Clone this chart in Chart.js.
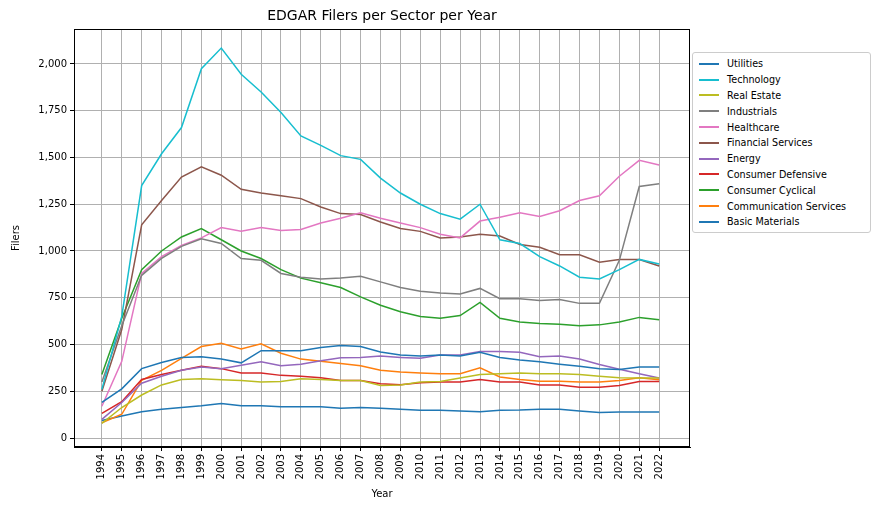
<!DOCTYPE html>
<html><head><meta charset="utf-8">
<script src="https://cdn.jsdelivr.net/npm/chart.js@4"></script>
<style>
body{margin:0;background:#fff;font-family:"DejaVu Sans",sans-serif;}
#wrap{position:relative;width:881px;height:511px;}
#title{position:absolute;left:74px;width:616px;top:7px;text-align:center;font-size:14px;color:#000;}
#legend{position:absolute;left:692px;top:52px;width:177px;border:1px solid #ccc;border-radius:3px;padding:3px 0 2px 0;font-size:9.6px;background:#fff;}
.li{display:flex;align-items:center;height:15.8px;padding-left:6px;}
.li span.l{display:inline-block;width:20px;height:2px;margin-right:8px;}
</style></head><body>
<div id="wrap"><canvas id="c" width="881" height="511"></canvas><div id="title">EDGAR Filers per Sector per Year</div><div id="legend"></div></div>
<script>
const years=[1994,1995,1996,1997,1998,1999,2000,2001,2002,2003,2004,2005,2006,2007,2008,2009,2010,2011,2012,2013,2014,2015,2016,2017,2018,2019,2020,2021,2022];
const utilities=[190,263,371,404,431,435,422,402,467,467,467,484,495,489,460,444,438,444,438,458,431,417,408,395,384,371,366,380,380];
const technology=[260,650,1350,1520,1660,1975,2085,1945,1850,1740,1615,1565,1510,1490,1390,1310,1250,1200,1170,1250,1060,1040,970,920,860,850,900,955,930];
const realEstate=[78,163,230,284,313,317,312,308,299,302,317,313,308,308,281,284,299,302,321,340,344,348,344,344,339,330,322,321,321];
const industrials=[300,600,870,960,1025,1065,1040,960,950,880,860,850,855,865,835,805,785,775,770,800,745,745,735,740,720,720,950,1345,1360];
const healthcare=[170,410,880,970,1030,1070,1125,1105,1125,1110,1115,1150,1175,1205,1175,1150,1125,1090,1070,1160,1180,1205,1185,1215,1270,1295,1400,1485,1460];
const financial=[250,580,1140,1270,1395,1450,1405,1330,1310,1295,1280,1235,1200,1195,1155,1120,1105,1070,1075,1090,1080,1035,1020,980,980,940,955,955,920];
const energy=[100,190,293,330,362,380,371,389,408,386,395,413,429,431,438,431,426,444,444,462,462,458,435,438,422,393,368,344,321];
const consDefensive=[132,194,313,340,362,384,371,348,348,335,330,322,308,308,290,285,295,299,299,313,299,299,284,284,272,272,281,302,302];
const consCyclical=[340,640,900,1000,1075,1120,1060,1000,960,900,855,830,805,755,710,675,650,640,655,725,640,620,612,608,600,605,620,645,632];
const communication=[82,127,308,362,426,489,507,476,504,453,422,411,399,386,362,353,348,344,344,375,326,313,304,304,299,299,308,322,312];
const basicMaterials=[94,118,141,154,163,172,185,172,172,167,167,167,159,163,159,154,149,149,145,141,149,150,154,154,145,136,139,139,139];
const yTicks=[0,250,500,750,1000,1250,1500,1750,2000];

const series=[
 ["Utilities",utilities,"#1f77b4"],["Technology",technology,"#17becf"],["Real Estate",realEstate,"#bcbd22"],
 ["Industrials",industrials,"#7f7f7f"],["Healthcare",healthcare,"#e377c2"],["Financial Services",financial,"#8c564b"],
 ["Energy",energy,"#9467bd"],["Consumer Defensive",consDefensive,"#d62728"],["Consumer Cyclical",consCyclical,"#2ca02c"],
 ["Communication Services",communication,"#ff7f0e"],["Basic Materials",basicMaterials,"#1f77b4"]];
const lg=document.getElementById('legend');
series.forEach(s=>{const d=document.createElement('div');d.className='li';d.innerHTML='<span class="l" style="background:'+s[2]+'"></span>'+s[0];lg.appendChild(d);});
const frame={id:'frame',afterDraw(c){const a=c.chartArea,x=c.ctx;x.save();x.strokeStyle='#000';x.lineWidth=1;x.strokeRect(a.left+0.5,a.top+0.5,a.right-a.left-1,a.bottom-a.top-1);x.restore();}};
new Chart(document.getElementById('c'),{type:'line',
 data:{datasets:series.map(s=>({label:s[0],data:years.map((y,i)=>({x:y,y:s[1][i]})),borderColor:s[2],backgroundColor:s[2],borderWidth:1.5,pointRadius:0,tension:0}))},
 options:{responsive:false,animation:false,events:[],
  layout:{padding:{left:6,right:191,top:29,bottom:11}},
  plugins:{legend:{display:false},tooltip:{enabled:false}},
  scales:{
   x:{type:'linear',min:1992.6,max:2023.55,afterBuildTicks(a){a.ticks=years.map(v=>({value:v}));},
      afterFit(a){a.height=53;},
      ticks:{autoSkip:false,maxRotation:90,minRotation:90,color:'#000',font:{size:10,family:'DejaVu Sans'},callback:v=>String(v)},
      grid:{color:'#b0b0b0',tickColor:'#000',tickLength:4},border:{color:'#000'},
      title:{display:true,text:'Year',color:'#000',font:{size:10,family:'DejaVu Sans'},padding:{top:0,bottom:0}}},
   y:{min:-48,max:2187,afterBuildTicks(a){a.ticks=yTicks.map(v=>({value:v}));},
      afterFit(a){a.width=68;},
      ticks:{color:'#000',font:{size:10,family:'DejaVu Sans'},callback:v=>v.toLocaleString('en-US')},
      grid:{color:'#b0b0b0',tickColor:'#000',tickLength:4},border:{color:'#000'},
      title:{display:true,text:'Filers',color:'#000',font:{size:10,family:'DejaVu Sans'},padding:{bottom:2}}}}},
 plugins:[frame]});
</script></body></html>
